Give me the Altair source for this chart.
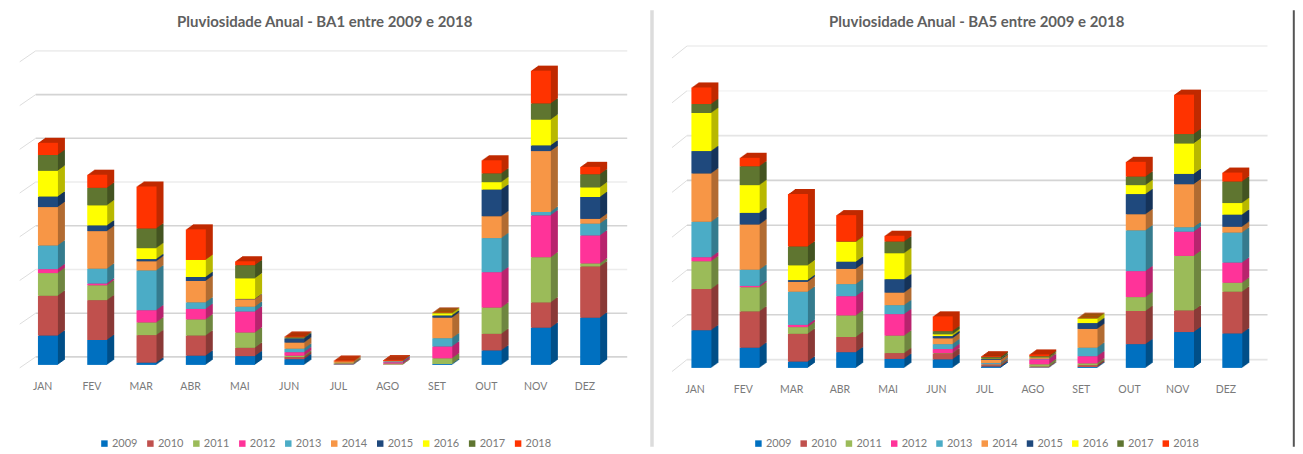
import altair as alt
import pandas as pd

months = ["JAN","FEV","MAR","ABR","MAI","JUN","JUL","AGO","SET","OUT","NOV","DEZ"]
years = ["2009","2010","2011","2012","2013","2014","2015","2016","2017","2018"]
front_colors = ["#0070c0","#c0504d","#9bbb59","#ff3399","#4bacc6","#f79646","#1f497d","#ffff00","#5f7530","#ff3300"]
dark_colors = ["#004f88","#8a3a37","#6f8640","#b8246e","#367c8e","#b26c32","#16345a","#b8b800","#445422","#c02a00"]

ba1 = {
    "JAN": [67,91,52,9,54,88,24,59,36,28],
    "FEV": [57,91,34,4,34,86,13,46,40,30],
    "MAR": [5,63,29,28,91,21,5,25,45,96],
    "ABR": [21,46,37,24,15,49,9,39,0,70],
    "MAI": [20,19,35,48,11,17,1,47,30,9],
    "JUN": [13,5,3,8,8,14,10,1,1,2],
    "JUL": [1,2,2,0,0,3,0,0,0,2],
    "AGO": [0,1,2,3,2,1,0,0,0,2],
    "SET": [2,0,13,27,19,47,5,5,1,1],
    "OUT": [33,38,60,81,78,50,61,17,20,30],
    "NOV": [85,58,103,96,8,139,13,59,37,75],
    "DEZ": [108,117,7,64,27,11,50,22,30,17],
}
ba5 = {
    "JAN": [84,92,62,9,79,108,50,85,20,37],
    "FEV": [45,81,54,3,36,101,26,62,42,19],
    "MAR": [14,62,15,5,74,22,4,33,42,117],
    "ABR": [35,34,48,43,27,34,16,44,1,59],
    "MAI": [20,13,39,48,20,28,30,58,26,13],
    "JUN": [19,13,1,9,11,13,5,4,7,33],
    "JUL": [3,3,2,1,2,7,2,1,3,2],
    "AGO": [1,2,5,11,1,2,1,1,2,4],
    "SET": [2,4,4,16,19,42,13,10,1,1],
    "OUT": [53,74,31,58,91,36,45,20,19,33],
    "NOV": [80,48,122,54,10,96,23,68,21,88],
    "DEZ": [77,93,20,45,67,13,27,26,48,20],
}
grid_ba1 = [0,100,200,300,400,500,600,700]
grid_op1 = [1,1,0.45,1,0.45,1,1,0.4]
grid_ba5 = [0,100,200,300,400,500,600,700]
grid_op5 = [0.6,1,1,1,1,0.6,0.2,0.4]

TEXT = "#7a7a7a"
FONT = "Lato"
all_keys = years + [y + "d" for y in years]
all_colors = front_colors + dark_colors


def panel(data, title, width, height, ymax, grid, grid_op, bar_shift, base_gap,
          grid_x, stub_x, stub_drop, legend_x, legend_y, col_pad, title_x, extra=None):
    df = pd.DataFrame([
        {"month": m, "year": y, "dark": y + "d", "value": v}
        for m in months for y, v in zip(years, data[m])
    ])
    gdf = pd.DataFrame({"g": grid, "o": grid_op})
    x = alt.X("month:N", sort=months, scale=alt.Scale(paddingInner=0, paddingOuter=0),
              axis=alt.Axis(title=None, labelAngle=0, ticks=False, domain=False, grid=False,
                            labelColor=TEXT, labelFont=FONT, labelFontSize=10.5, labelPadding=17))
    y = alt.Y("value:Q", stack="zero", scale=alt.Scale(domain=[0, ymax], nice=False), axis=None)
    colscale = alt.Scale(domain=all_keys, range=all_colors)
    legend = alt.Legend(title=None, values=years, orient="none", legendX=legend_x, legendY=legend_y,
                        direction="horizontal", columns=10, symbolType="square", symbolSize=42,
                        symbolStrokeWidth=0, labelColor=TEXT, labelFont=FONT, labelFontSize=11,
                        columnPadding=col_pad, labelOffset=2)
    order = alt.Order("year:N")

    gridl = alt.Chart(gdf).mark_rule(color="#d4d4d4", strokeWidth=1.6, yOffset=-base_gap).encode(
        x=alt.value(grid_x[0]), x2=alt.value(grid_x[1]),
        y=alt.Y("g:Q", scale=alt.Scale(domain=[0, ymax], nice=False), axis=None),
        opacity=alt.Opacity("o:Q", scale=None),
    )
    stub = alt.Chart(gdf).mark_rule(color="#dddddd", strokeWidth=1,
                                    yOffset=stub_drop - base_gap, y2Offset=-base_gap).encode(
        x=alt.value(stub_x[0]), x2=alt.value(stub_x[1]),
        y=alt.Y("g:Q", scale=alt.Scale(domain=[0, ymax], nice=False), axis=None),
        y2=alt.Y2("g:Q"),
    )
    ttl = alt.Chart(pd.DataFrame({"t": [title]})).mark_text(
        font=FONT, fontSize=15, fontWeight="bold", color="#5f5f5f", align="center", baseline="middle"
    ).encode(x=alt.value(title_x), y=alt.value(-23), text="t:N")
    layers = [gridl, stub, ttl]
    for i in [7, 6, 5, 4, 3, 2, 1]:
        dx = bar_shift + i
        dy = -i * 0.72
        layers.append(
            alt.Chart(df).mark_bar(size=20, xOffset=dx, x2Offset=dx, yOffset=dy, y2Offset=dy).encode(
                x=x, y=y, order=order,
                color=alt.Color("dark:N", scale=colscale, legend=legend),
            )
        )
    layers.append(
        alt.Chart(df).mark_bar(size=20, xOffset=bar_shift, x2Offset=bar_shift).encode(
            x=x, y=y, order=order,
            color=alt.Color("year:N", scale=colscale, legend=legend),
        )
    )
    if extra:
        layers += extra
    return alt.layer(*layers).properties(width=width, height=height)


sep = alt.Chart(pd.DataFrame({"k": [0]})).mark_rule(color="#dcdcdc", strokeWidth=3.5).encode(
    x=alt.value(-19), y=alt.value(-35), y2=alt.value(402))
edge = alt.Chart(pd.DataFrame({"k": [0]})).mark_rule(color="#555555", strokeWidth=2).encode(
    x=alt.value(623.3), y=alt.value(-35), y2=alt.value(402))

left = panel(ba1, "Pluviosidade Anual - BA1 entre 2009 e 2018", 592, 320, 731.4,
             grid_ba1, grid_op1, 5.3, 8, (17.7, 609.7), (1.7, 17.7), 11, 81, 393, 7, 307)
right = panel(ba5, "Pluviosidade Anual - BA5 entre 2009 e 2018", 579.6, 323, 720.5,
              grid_ba5, grid_op5, 6.3, 8.3, (16, 597), (1, 16), 12, 82, 393, 6.3, 306,
              extra=[sep, edge])

chart = alt.hconcat(left, right, spacing=21.5).resolve_scale(color="independent").properties(
    padding={"left": 10, "top": 0, "right": 0, "bottom": 0},
    background="white",
).configure_view(stroke=None)

chart.save("out.html", embed_options={"renderer": "svg", "actions": False})
